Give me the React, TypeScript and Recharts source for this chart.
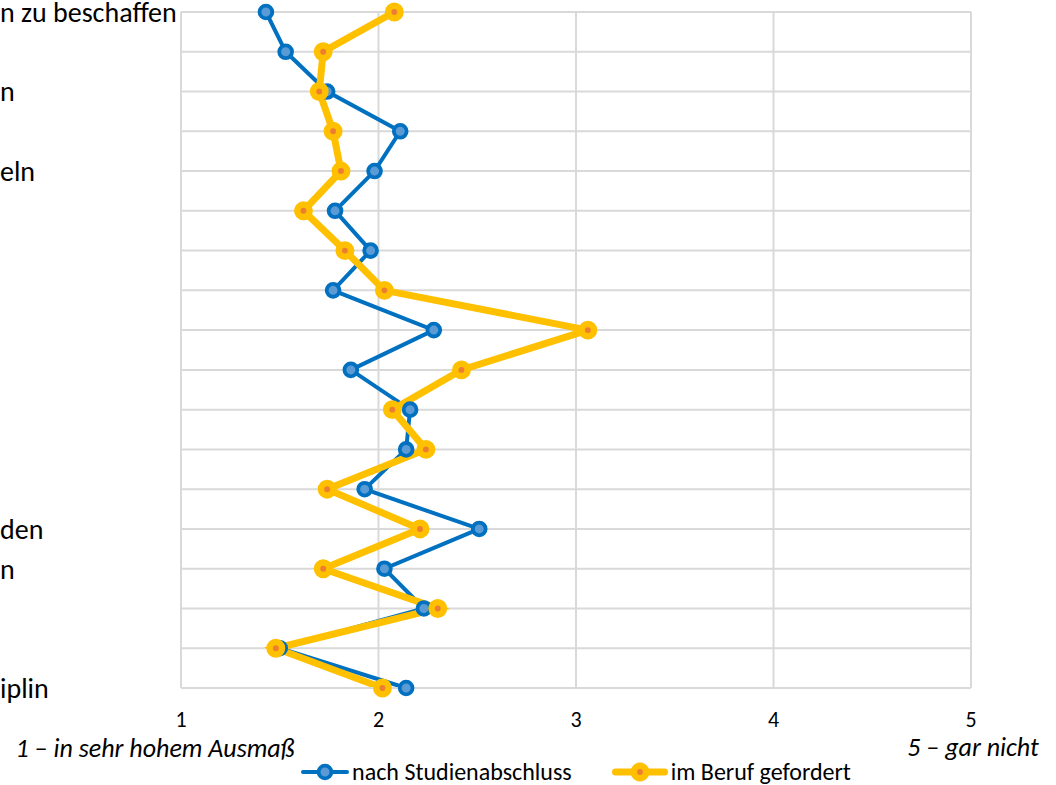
import React from 'react';
import { LineChart, Line, XAxis, YAxis, CartesianGrid, Legend } from 'recharts';

// Visible (cut-off) fragments of the category labels, top to bottom
const categoryLabels: string[] = [
  'n zu beschaffen', '', 'n', '', 'eln', '', '', '', '', '',
  '', '', '', 'den', 'n', '', '', 'iplin',
];

const nachStudienabschluss: number[] = [
  1.43, 1.53, 1.74, 2.11, 1.98, 1.78, 1.96, 1.77, 2.28, 1.86,
  2.16, 2.14, 1.93, 2.51, 2.03, 2.23, 1.50, 2.14,
];

const imBerufGefordert: number[] = [
  2.08, 1.72, 1.70, 1.77, 1.81, 1.62, 1.83, 2.03, 3.06, 2.42,
  2.07, 2.24, 1.74, 2.21, 1.72, 2.30, 1.48, 2.02,
];

const xTicks: number[] = [1, 2, 3, 4, 5];
const seriesNames: string[] = ['nach Studienabschluss', 'im Beruf gefordert'];
const scaleTitles: string[] = ['1 – in sehr hohem Ausmaß', '5 – gar nicht'];

const data = categoryLabels.map((label, i) => ({
  idx: i,
  label,
  nach: nachStudienabschluss[i],
  beruf: imBerufGefordert[i],
}));
const yTicks = data.map((d) => d.idx);

const FONT = 'Carlito, Lato, sans-serif';
const BLUE = '#0070C0';
const BLUE_FILL = '#5B9BD5';
const GOLD = '#FFC000';
const ORANGE = '#ED7D31';
const GRID = '#D9D9D9';

const CategoryTick = (props: any) => {
  const { y, payload } = props;
  return (
    <text x={0} y={y} dy="0.35em" textAnchor="start" fontFamily={FONT} fontSize={28} fill="#000">
      {categoryLabels[payload.value]}
    </text>
  );
};

const AxisTitles = (props: any) => {
  const vb = props.viewBox || { x: 181, y: 688, width: 790, height: 97 };
  return (
    <g>
      <text x={vb.x - 26} y={vb.y + 69} textAnchor="middle" fontFamily={FONT} fontStyle="italic" fontSize={26} fill="#000">
        {scaleTitles[0]}
      </text>
      <text x={vb.x + vb.width + 2} y={vb.y + 68} textAnchor="middle" fontFamily={FONT} fontStyle="italic" fontSize={26} fill="#000">
        {scaleTitles[1]}
      </text>
    </g>
  );
};

const LegendIcon = ({ color, fill, lineW, r, sw, w }: any) => (
  <svg width={w} height={24} style={{ display: 'block' }}>
    <line x1={lineW / 2} y1={12} x2={w - lineW / 2} y2={12} stroke={color} strokeWidth={lineW} strokeLinecap="round" />
    <circle cx={w / 2} cy={12} r={r} fill={fill} stroke={color} strokeWidth={sw} />
  </svg>
);

const renderLegend = () => (
  <div
    style={{
      display: 'flex',
      justifyContent: 'center',
      alignItems: 'center',
      fontFamily: FONT,
      fontSize: 24,
      color: '#000',
      whiteSpace: 'nowrap',
      lineHeight: '28px',
    }}
  >
    <LegendIcon color={BLUE} fill={BLUE_FILL} lineW={4} r={6.4} sw={3.8} w={48} />
    <span style={{ marginLeft: 3, marginRight: 40 }}>{seriesNames[0]}</span>
    <LegendIcon color={GOLD} fill={ORANGE} lineW={7} r={6.2} sw={6.5} w={56} />
    <span style={{ marginLeft: 3 }}>{seriesNames[1]}</span>
  </div>
);

export default function App() {
  return (
    <div style={{ width: 1056, height: 785, position: 'relative', background: '#fff' }}>
      <style>{'body{margin:0;background:#fff}'}</style>
      <LineChart
        width={1056}
        height={785}
        data={data}
        layout="vertical"
        margin={{ top: 12, right: 85, bottom: 0, left: 0 }}
      >
        <CartesianGrid stroke={GRID} strokeWidth={2} horizontal vertical />
        <XAxis
          type="number"
          domain={[1, 5]}
          ticks={xTicks}
          interval={0}
          axisLine={{ stroke: GRID, strokeWidth: 2 }}
          tickLine={false}
          tickSize={0}
          tickMargin={23}
          height={97}
          tick={{ fill: '#000', fontSize: 22, fontFamily: FONT }}
          label={<AxisTitles />}
        />
        <YAxis
          type="number"
          dataKey="idx"
          domain={[0, 17]}
          ticks={yTicks}
          interval={0}
          width={181}
          axisLine={{ stroke: GRID, strokeWidth: 2 }}
          tickLine={false}
          tick={<CategoryTick />}
        />
        <Line
          dataKey="nach"
          name={seriesNames[0]}
          stroke={BLUE}
          strokeWidth={4}
          dot={{ r: 6.4, fill: BLUE_FILL, stroke: BLUE, strokeWidth: 3.8 }}
          activeDot={false}
          isAnimationActive={false}
        />
        <Line
          dataKey="beruf"
          name={seriesNames[1]}
          stroke={GOLD}
          strokeWidth={7}
          dot={{ r: 6.2, fill: ORANGE, stroke: GOLD, strokeWidth: 6.5 }}
          activeDot={false}
          isAnimationActive={false}
        />
        <Legend
          content={renderLegend}
          wrapperStyle={{ position: 'absolute', top: 758, left: 181, width: 790, height: 0, bottom: 'auto', right: 'auto' }}
        />
      </LineChart>
    </div>
  );
}
